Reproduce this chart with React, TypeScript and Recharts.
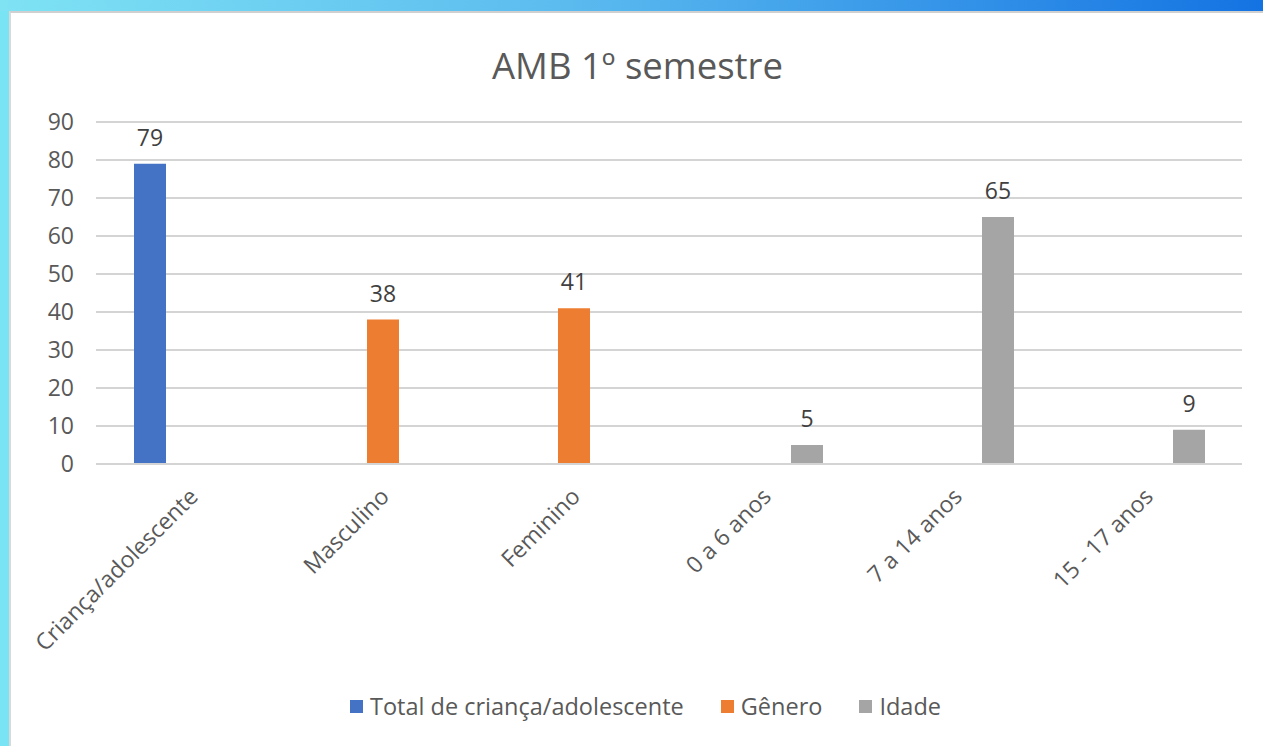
import React from "react";
import { BarChart, Bar, XAxis, YAxis, CartesianGrid, LabelList, Legend } from "recharts";

const categories = ["Criança/adolescente", "Masculino", "Feminino", "0 a 6 anos", "7 a 14 anos", "15 - 17 anos"];
const totalValues: (number | null)[] = [79, null, null, null, null, null];
const generoValues: (number | null)[] = [null, 38, 41, null, null, null];
const idadeValues: (number | null)[] = [null, null, null, 5, 65, 9];
const yTicks = [0, 10, 20, 30, 40, 50, 60, 70, 80, 90];

const seriesNames = ["Total de criança/adolescente", "Gênero", "Idade"];
const seriesColors = ["#4472C4", "#ED7D31", "#A5A5A5"];

const data = categories.map((name, i) => ({
  name,
  total: totalValues[i],
  genero: generoValues[i],
  idade: idadeValues[i],
}));

const FONT = "'Open Sans', 'Noto Sans', sans-serif";
const TEXT = "#595959";

const RotatedTick = (props: any) => {
  const { x, y, payload } = props;
  return (
    <text
      transform={`translate(${x + 8},${y + 26}) rotate(-45)`}
      textAnchor="end"
      fill={TEXT}
      fontSize={23}
      fontFamily={FONT}
    >
      {payload.value}
    </text>
  );
};

const LegendContent = () => (
  <div style={{ display: "flex", justifyContent: "center", gap: 37, fontFamily: FONT, fontSize: 23.5, color: TEXT }}>
    {seriesNames.map((n, i) => (
      <div key={n} style={{ display: "flex", alignItems: "center" }}>
        <span style={{ display: "inline-block", width: 13, height: 13, background: seriesColors[i], marginRight: 7 }} />
        <span>{n}</span>
      </div>
    ))}
  </div>
);

export default function App() {
  return (
    <div
      style={{
        position: "fixed",
        left: 0,
        top: 0,
        width: 1263,
        height: 746,
        background: "linear-gradient(90deg, #7fe3f4 0%, #5bbbef 45%, #1473e2 100%)",
        overflow: "hidden",
      }}
    >
      <div
        style={{
          position: "absolute",
          left: 0,
          top: 11,
          width: 9,
          height: 735,
          background: "#79e4f3",
        }}
      />
      <div
        style={{
          position: "absolute",
          left: 9,
          top: 11,
          width: 1254,
          height: 735,
          background: "#ffffff",
          borderLeft: "2px solid #d9d9d9",
          borderTop: "2px solid #d0d0d0",
          boxSizing: "border-box",
        }}
      />
      <div
        style={{
          position: "absolute",
          left: 0,
          top: 40,
          width: 1263,
          textAlign: "center",
          fontFamily: FONT,
          fontSize: 36.5,
          color: TEXT,
          paddingLeft: 12,
          boxSizing: "border-box",
        }}
      >
        AMB 1º semestre
      </div>
      <div style={{ position: "absolute", left: 0, top: 0 }}>
        <BarChart
          width={1263}
          height={746}
          data={data}
          margin={{ top: 122, right: 21, bottom: 82, left: 36 }}
          barSize={32}
          barGap={10}
        >
          <CartesianGrid vertical={false} stroke="#d4d4d4" strokeWidth={2} />
          <XAxis
            dataKey="name"
            tick={<RotatedTick />}
            tickLine={false}
            axisLine={{ stroke: "#d4d4d4", strokeWidth: 2 }}
            interval={0}
            height={200}
          />
          <YAxis
            domain={[0, 90]}
            ticks={yTicks}
            width={60}
            tickLine={false}
            axisLine={false}
            tick={{ fill: TEXT, fontSize: 23, fontFamily: FONT }}
            tickMargin={16}
          />
          <Legend
            layout="horizontal"
            verticalAlign="middle"
            align="center"
            wrapperStyle={{ top: 690, left: 14, width: 1263 }}
            content={<LegendContent />}
          />
          <Bar dataKey="total" name={seriesNames[0]} fill={seriesColors[0]} isAnimationActive={false}>
            <LabelList dataKey="total" position="top" offset={18} fill="#404040" fontSize={23} fontFamily={FONT} />
          </Bar>
          <Bar dataKey="genero" name={seriesNames[1]} fill={seriesColors[1]} isAnimationActive={false}>
            <LabelList dataKey="genero" position="top" offset={18} fill="#404040" fontSize={23} fontFamily={FONT} />
          </Bar>
          <Bar dataKey="idade" name={seriesNames[2]} fill={seriesColors[2]} isAnimationActive={false}>
            <LabelList dataKey="idade" position="top" offset={18} fill="#404040" fontSize={23} fontFamily={FONT} />
          </Bar>
        </BarChart>
      </div>
    </div>
  );
}
